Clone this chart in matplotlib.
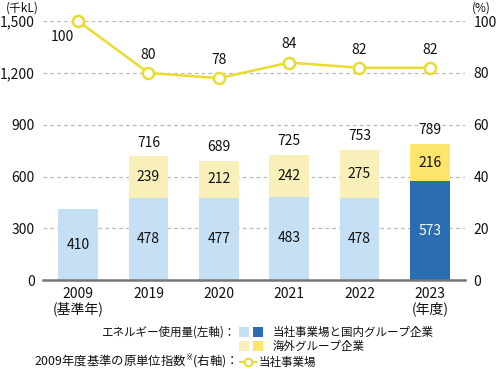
import matplotlib
matplotlib.use("Agg")
import matplotlib.pyplot as plt
from matplotlib.patches import Rectangle
from matplotlib.lines import Line2D

plt.rcParams['font.family'] = ['Noto Sans CJK JP', 'DejaVu Sans']

years = ["2009\n(基準年)", "2019", "2020", "2021", "2022", "2023\n(年度)"]
domestic = [410, 478, 477, 483, 478, 573]
overseas = [0, 239, 212, 242, 275, 216]
totals = [None, 716, 689, 725, 753, 789]
index_vals = [100, 80, 78, 84, 82, 82]

c_dom = "#c5e0f4"
c_dom_hi = "#2a6db0"
c_ovs = "#f9efb8"
c_ovs_hi = "#fde46a"
c_line = "#e8dc2e"

fig = plt.figure(figsize=(5.0, 3.71), dpi=100)
ax = fig.add_axes([0.086, 0.245, 0.844, 0.698])
ax2 = ax.twinx()

x = list(range(len(years)))
w = 0.56
dom_colors = [c_dom] * 5 + [c_dom_hi]
ovs_colors = [c_ovs] * 5 + [c_ovs_hi]
ax.bar(x, domestic, width=w, color=dom_colors, zorder=2)
ax.bar(x, overseas, width=w, bottom=domestic, color=ovs_colors, zorder=2)

fs = 10
for i in x:
    tc = "white" if i == 5 else "#111111"
    ax.text(i, domestic[i] / 2, str(domestic[i]), ha="center", va="center", fontsize=fs, color=tc, zorder=3)
    if overseas[i]:
        ax.text(i, domestic[i] + overseas[i] / 2, str(overseas[i]), ha="center", va="center", fontsize=fs, color="#111111", zorder=3)
    if totals[i] is not None:
        ax.text(i, totals[i] + 40, str(totals[i]), ha="center", va="bottom", fontsize=fs, color="#111111")

ax.set_xlim(-0.5, 5.5)
ax.set_ylim(0, 1500)
ax.set_yticks([0, 300, 600, 900, 1200, 1500])
ax.set_yticklabels(["0", "300", "600", "900", "1,200", "1,500"])
ax.set_xticks(x)
ax.set_xticklabels(years, fontsize=fs, linespacing=1.0)
ax.tick_params(axis="both", length=0, labelsize=fs, colors="#111111")
ax.tick_params(axis="y", pad=6)
ax.tick_params(axis="x", pad=5)
for s in ["top", "right", "left"]:
    ax.spines[s].set_visible(False)
ax.spines["bottom"].set_color("#777777")
ax.spines["bottom"].set_linewidth(1.8)
ax.yaxis.grid(True, linestyle=(0, (3, 2.5)), color="#bbbbbb", linewidth=0.9, zorder=0)
ax.set_axisbelow(True)

ax2.set_ylim(0, 100)
ax2.set_yticks([0, 20, 40, 60, 80, 100])
ax2.tick_params(axis="y", length=0, labelsize=fs, colors="#111111", pad=6)
for s in ["top", "right", "left", "bottom"]:
    ax2.spines[s].set_visible(False)
ax2.plot(x, index_vals, color=c_line, linewidth=1.8, marker="o", markersize=8,
         markerfacecolor="white", markeredgecolor=c_line, markeredgewidth=1.8, zorder=5, clip_on=False)
for i in x:
    if i == 0:
        ax2.text(i - 0.22, index_vals[i] - 6, str(index_vals[i]), ha="center", va="center", fontsize=fs, color="#111111")
    else:
        ax2.text(i, index_vals[i] + 7, str(index_vals[i]), ha="center", va="center", fontsize=fs, color="#111111")

fig.text(0.012, 0.978, "(千kL)", fontsize=8.5, ha="left", va="center", color="#111111")
fig.text(0.962, 0.978, "(%)", fontsize=8.5, ha="center", va="center", color="#111111")

# legend
lfs = 8.3
H = 371.0
def fy(py):
    return 1 - py / H
fig.text(235 / 500, fy(332), "エネルギー使用量(左軸)：", fontsize=lfs, ha="right", va="center", color="#111111")
fig.text(235 / 500, fy(362), "2009年度基準の原単位指数$^{※}$(右軸)：", fontsize=8.9, ha="right", va="center", color="#111111")
sq = [(239, 327, c_dom), (253, 327, c_dom_hi), (239, 341, c_ovs), (253, 341, c_ovs_hi)]
for px, py, c in sq:
    fig.add_artist(Rectangle((px / 500, fy(py + 10)), 10 / 500, 10 / H, facecolor=c, edgecolor="none",
                             transform=fig.transFigure))
fig.text(273 / 500, fy(332), "当社事業場と国内グループ企業", fontsize=lfs, ha="left", va="center", color="#111111")
fig.text(273 / 500, fy(346), "海外グループ企業", fontsize=lfs, ha="left", va="center", color="#111111")
fig.add_artist(Line2D([240 / 500, 256 / 500], [fy(362), fy(362)], color=c_line, linewidth=1.5,
                      transform=fig.transFigure))
fig.add_artist(Line2D([248 / 500], [fy(362)], marker="o", markersize=5.5, markerfacecolor="white",
                      markeredgecolor=c_line, markeredgewidth=1.5, transform=fig.transFigure))
fig.text(259 / 500, fy(362), "当社事業場", fontsize=lfs, ha="left", va="center", color="#111111")

fig.savefig("out.png", dpi=100)
